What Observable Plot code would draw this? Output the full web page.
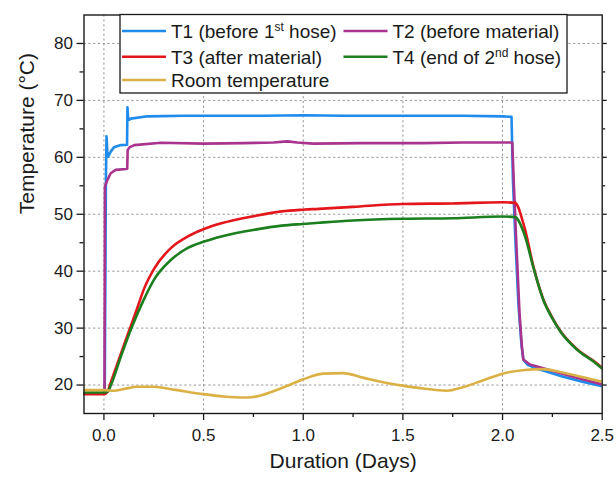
<!DOCTYPE html>
<html><head><meta charset="utf-8">
<script src="https://cdn.jsdelivr.net/npm/d3@7"></script>
<script src="https://cdn.jsdelivr.net/npm/@observablehq/plot@0.6"></script>
<style>body{margin:0;background:#fff} svg{display:block}</style>
</head><body><div id="chart"></div>
<script>
// ---- data ----
const seriesNames = ["T1", "T2", "T3", "T4", "Room"];
const legendLabels = ["T1 (before 1^st hose)", "T2 (before material)", "T3 (after material)", "T4 (end of 2^nd hose)", "Room temperature"];
const seriesColors = ["#1f8ceb", "#a8348f", "#e3161c", "#1b7f20", "#dbb145"];

const t1Days  = [-0.1, 0.004, 0.010, 0.013, 0.017, 0.021, 0.034, 0.05, 0.085, 0.116, 0.118, 0.121, 0.128, 0.135, 0.219, 0.4, 0.6, 0.8, 1.0, 1.2, 1.4, 1.6, 1.8, 2.0, 2.045, 2.052, 2.065, 2.08, 2.095, 2.105, 2.125, 2.16, 2.2, 2.3, 2.4, 2.5];
const t1Temps = [18.5, 18.5, 56.0, 63.7, 61.0, 60.1, 61.0, 61.75, 62.15, 62.2, 68.8, 67.0, 66.6, 66.8, 67.2, 67.3, 67.3, 67.3, 67.4, 67.3, 67.3, 67.3, 67.3, 67.2, 67.1, 56.0, 45.0, 34.0, 27.0, 24.4, 23.6, 23.0, 22.6, 21.5, 20.6, 19.8];

const t2Days  = [-0.1, 0.003, 0.005, 0.017, 0.034, 0.059, 0.11, 0.117, 0.119, 0.13, 0.152, 0.286, 0.5, 0.7, 0.85, 0.92, 0.97, 1.05, 1.3, 1.6, 1.8, 2.0, 2.049, 2.057, 2.07, 2.085, 2.097, 2.104, 2.137, 2.2, 2.3, 2.4, 2.5];
const t2Temps = [18.5, 18.5, 54.9, 56.0, 57.2, 57.8, 57.95, 58.0, 61.3, 61.8, 62.15, 62.55, 62.4, 62.5, 62.6, 62.8, 62.6, 62.4, 62.5, 62.5, 62.6, 62.6, 62.6, 55.0, 44.3, 32.7, 26.8, 24.5, 23.6, 23.0, 22.0, 21.0, 20.1];

const t3Days  = [-0.1, 0.0, 0.018, 0.03, 0.08, 0.131, 0.169, 0.2, 0.253, 0.337, 0.421, 0.502, 0.589, 0.758, 0.892, 1.0, 1.078, 1.25, 1.5, 1.75, 2.0, 2.063, 2.078, 2.095, 2.113, 2.155, 2.205, 2.25, 2.29, 2.374, 2.458, 2.5];
const t3Temps = [18.4, 18.4, 18.8, 20.0, 25.0, 30.0, 33.7, 36.8, 40.5, 44.1, 46.1, 47.4, 48.4, 49.7, 50.5, 50.8, 50.95, 51.3, 51.8, 51.9, 52.1, 52.0, 51.3, 49.5, 47.3, 40.8, 35.0, 31.8, 29.5, 26.3, 24.2, 23.0];

const t4Days  = [-0.1, 0.0, 0.02, 0.035, 0.085, 0.138, 0.2, 0.253, 0.337, 0.421, 0.502, 0.589, 0.758, 0.892, 1.0, 1.078, 1.25, 1.5, 1.75, 2.0, 2.065, 2.08, 2.095, 2.113, 2.155, 2.205, 2.25, 2.29, 2.374, 2.458, 2.5];
const t4Temps = [18.7, 18.7, 18.9, 20.0, 25.0, 30.0, 35.0, 38.6, 42.0, 44.1, 45.2, 46.1, 47.3, 48.0, 48.3, 48.5, 48.9, 49.2, 49.3, 49.6, 49.5, 48.9, 47.8, 46.1, 40.6, 34.9, 31.7, 29.4, 26.2, 24.1, 22.9];

const roomDays  = [-0.1, 0.0, 0.05, 0.1, 0.17, 0.25, 0.35, 0.5, 0.6, 0.7, 0.75, 0.85, 0.95, 1.0, 1.1, 1.2, 1.3, 1.4, 1.5, 1.6, 1.72, 1.8, 1.9, 2.0, 2.1, 2.2, 2.3, 2.4, 2.5];
const roomTemps = [19.1, 19.1, 19.0, 19.3, 19.7, 19.7, 19.2, 18.4, 18.0, 17.8, 17.9, 18.9, 20.3, 21.0, 22.0, 22.1, 21.3, 20.5, 19.9, 19.4, 19.0, 19.6, 20.8, 22.0, 22.6, 22.8, 22.2, 21.4, 20.6];

const xTicks = [0, 0.5, 1.0, 1.5, 2.0, 2.5];
const xMinorTicks = [0.25, 0.75, 1.25, 1.75, 2.25];
const yTicks = [20, 30, 40, 50, 60, 70, 80];
const yMinorTicks = [25, 35, 45, 55, 65, 75];
const xTitle = "Duration (Days)";
const yTitle = "Temperature (°C)";

// ---- build ----
const rows = (days, temps) => days.map((d, i) => ({day: d, temp: temps[i]}));
const allSeries = [
  rows(t1Days, t1Temps), rows(t2Days, t2Temps), rows(t3Days, t3Temps),
  rows(t4Days, t4Temps), rows(roomDays, roomTemps)
];
const curves = ["linear", "linear", "monotone-x", "monotone-x", "monotone-x"];
const font = "'Liberation Sans', Arial, Helvetica, sans-serif";
const gridStyle = {stroke: "#8a8a8a", strokeOpacity: 1, strokeWidth: 0.9, strokeDasharray: "2.2,2.6"};

const chart = Plot.plot({
  width: 616, height: 478,
  marginLeft: 83.5, marginRight: 14.3, marginTop: 14.5, marginBottom: 65,
  style: {fontFamily: font, fontSize: "17px", color: "#1a1a1a", background: "#fff"},
  x: {domain: [-0.1, 2.5], axis: null},
  y: {domain: [15, 85], axis: null},
  marks: [
    Plot.gridX(xTicks.filter(d => d < 2.5), gridStyle),
    Plot.gridY(yTicks, gridStyle),
    ...allSeries.map((data, i) => Plot.line(data, {
      x: "day", y: "temp", stroke: seriesColors[i], strokeWidth: 2.6,
      curve: curves[i], clip: true
    })),
    Plot.frame({stroke: "#1a1a1a", strokeWidth: 1.4}),
    Plot.axisX({ticks: xTicks, tickSize: 7, tickPadding: 8, tickFormat: d3.format(".1f"), label: null, strokeWidth: 1.3}),
    Plot.axisX({ticks: xMinorTicks, tickSize: 4, tickFormat: () => "", label: null, strokeWidth: 1.3}),
    Plot.axisY({ticks: yTicks, tickSize: 7, tickPadding: 4, tickFormat: d3.format("d"), label: null, strokeWidth: 1.3}),
    Plot.axisY({ticks: yMinorTicks, tickSize: 4, tickFormat: () => "", label: null, strokeWidth: 1.3}),
    Plot.axisY({anchor: "right", ticks: yTicks, tickSize: 4, tickFormat: () => "", label: null, strokeWidth: 1.3}),
    Plot.axisY({anchor: "right", ticks: yMinorTicks, tickSize: 2.5, tickFormat: () => "", label: null, strokeWidth: 1.3}),
    Plot.text([yTitle], {text: d => d, frameAnchor: "left", dx: -57, rotate: -90, fontSize: 21, fill: "#1a1a1a"}),
    Plot.text([xTitle], {text: d => d, frameAnchor: "bottom", dy: 54, fontSize: 21, fill: "#1a1a1a"})
  ]
});
document.getElementById("chart").appendChild(chart);

// ---- legend (inside plot, top) ----
const svg = d3.select(chart);
const lg = svg.append("g").attr("font-family", font).attr("font-size", 19).attr("fill", "#1a1a1a").attr("text-anchor", "start");
lg.append("rect").attr("x", 120).attr("y", 14.5).attr("width", 447).attr("height", 78.5)
  .attr("fill", "#fff").attr("stroke", "#1a1a1a").attr("stroke-width", 1.3);
const colX = [122, 343.5];
const rowY = [31, 56.7, 80];
legendLabels.forEach((label, i) => {
  const cx = colX[i % 2], cy = rowY[Math.floor(i / 2)];
  lg.append("line").attr("x1", cx).attr("x2", cx + 44).attr("y1", cy).attr("y2", cy)
    .attr("stroke", seriesColors[i]).attr("stroke-width", 2.6);
  const t = lg.append("text").attr("x", cx + 49).attr("y", cy).attr("dy", "0.36em").attr("text-anchor", "start");
  const parts = label.split(/\^(\w+)/);
  let raised = false;
  parts.forEach((p, k) => {
    if (k % 2 === 1) {
      t.append("tspan").attr("dy", -7).attr("font-size", 12).text(p);
      raised = true;
    } else if (p) {
      const s = t.append("tspan").text(p);
      if (raised) { s.attr("dy", 7); raised = false; }
    }
  });
});
</script>
</body></html>
